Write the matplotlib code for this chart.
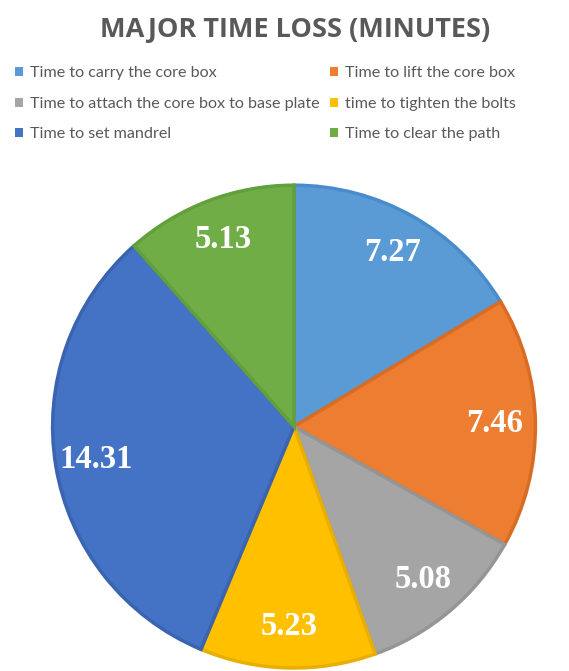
import matplotlib

matplotlib.use("Agg")
import matplotlib.pyplot as plt
import numpy as np
from matplotlib.patches import Patch

# slice data, clockwise from 12 o'clock
labels = [
    "Time to carry the core box",
    "Time to lift the core box",
    "Time to attach the core box to base plate",
    "time to tighten the bolts",
    "Time to set mandrel",
    "Time to clear the path",
]
minutes = [7.27, 7.46, 5.08, 5.23, 14.31, 5.13]
colors = ["#5B9BD5", "#ED7D31", "#A5A5A5", "#FFC000", "#4472C4", "#70AD47"]
edges = ["#4a8ccb", "#d86c22", "#959595", "#e8ae00", "#3a63b0", "#62a03c"]

fig = plt.figure(figsize=(5.69, 6.71), dpi=100)
ax = fig.add_axes([0.0905, 0.0045, 0.8524, 0.7195])

wedges, _ = ax.pie(
    minutes,
    colors=colors,
    startangle=90,
    counterclock=False,
    radius=1.0,
    wedgeprops=dict(linewidth=2.5),
)
for w, ec in zip(wedges, edges):
    w.set_edgecolor(ec)

# value labels
total = sum(minutes)
start = 90.0
for val in minutes:
    sweep = val / total * 360
    mid = np.deg2rad(start - sweep / 2)
    start -= sweep
    ax.text(0.83 * np.cos(mid), 0.83 * np.sin(mid), f"{val:.2f}",
            ha="center", va="center", color="white", fontsize=23.5,
            fontweight="bold", family="Liberation Serif")
ax.set_xlim(-1, 1)
ax.set_ylim(-1, 1)
ax.set_aspect("equal")

fig.text(0.518, 0.955, "MAJOR TIME LOSS (MINUTES)", ha="center", va="center",
         fontsize=19.5, fontweight="bold", color="#595959", family="Open Sans")

# legend filled row by row like the original
order = [0, 2, 4, 1, 3, 5]
handles = [Patch(facecolor=colors[i], edgecolor="none") for i in order]
fig.legend(
    handles, [labels[i] for i in order],
    ncol=2, loc="upper left", bbox_to_anchor=(0.015, 0.9105),
    frameon=False, labelcolor="#595959", borderaxespad=0,
    handlelength=0.5, handleheight=0.5, handletextpad=0.45,
    columnspacing=0.6, labelspacing=1.02,
    prop=dict(family="Lato", size=11.6),
)

fig.savefig("out.png", dpi=100, facecolor="white")
